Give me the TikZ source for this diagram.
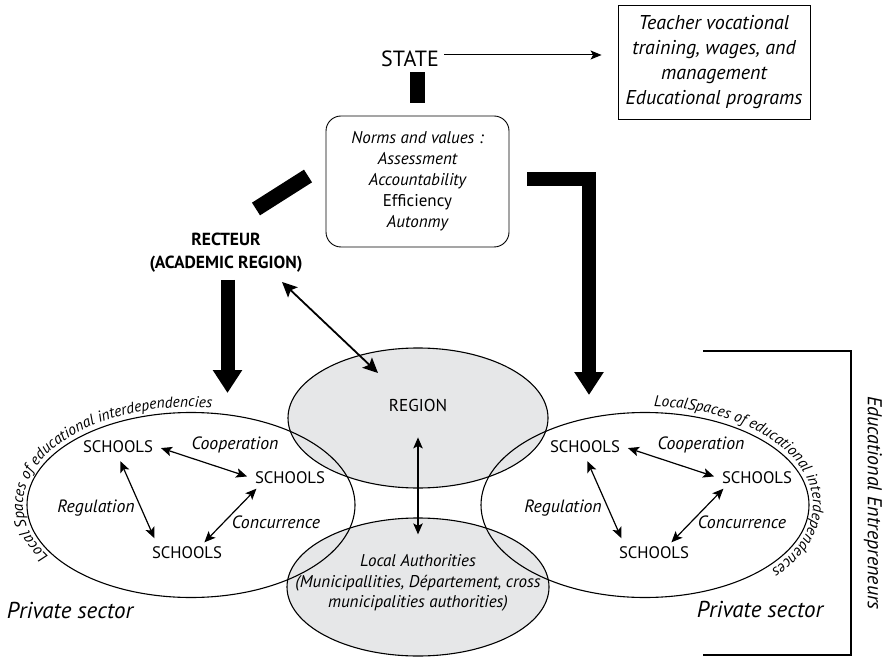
\documentclass[tikz,border=0pt]{standalone}
\usepackage{fontspec}
\setmainfont{PT Sans}
\usetikzlibrary{arrows.meta,decorations.text,calc}
\definecolor{lgray}{RGB}{230,231,232}
\begin{document}
\begin{tikzpicture}[x=1pt,y=1pt,
  every node/.style={inner sep=3pt},
  outl/.style={line width=1.1pt},
  stub/.style={line width=15pt},
  bigarr/.style={line width=14pt,line join=miter,-{Triangle[length=23pt,width=28pt]}},
  smallarr/.style={line width=1.2pt,{Stealth[length=11pt,width=9.5pt,inset=2.5pt]}-{Stealth[length=11pt,width=9.5pt,inset=2.5pt]}},
  midarr/.style={line width=1.8pt,{Stealth[length=15pt,width=14pt,inset=3pt]}-{Stealth[length=15pt,width=14pt,inset=3pt]}},
  thinarr/.style={line width=1pt,-{Stealth[length=11pt,width=9pt,inset=2.5pt]}},
  schl/.style={font=\fontsize{16.7}{18}\selectfont},
  itl/.style={font=\itshape\fontsize{17.8}{19}\selectfont},
  bigtxt/.style={font=\fontsize{22}{24}\selectfont},
  bigit/.style={font=\itshape\fontsize{23}{25}\selectfont},
]
\useasboundingbox (0,0) rectangle (882,659);

% shaded ellipses
\fill[lgray] (418,241) ellipse [x radius=130, y radius=70];
\fill[lgray] (418,72) ellipse [x radius=131, y radius=69];
\draw[outl] (418,241) ellipse [x radius=130, y radius=70];
\draw[outl] (418,72) ellipse [x radius=131, y radius=69];
\draw[outl] (191,154) ellipse [x radius=164, y radius=92.5];
\draw[outl] (645,154) ellipse [x radius=164, y radius=92.5];

% top
\node[bigtxt] (state) at (410,600) {STATE};
\node[draw,line width=0.9pt,minimum width=192pt,minimum height=114pt,align=center,
      font=\itshape\fontsize{20}{25}\selectfont] (teacher) at (714,597)
  {Teacher vocational\\training, wages, and\\management\\Educational programs};
\draw[thinarr,shorten <=2pt,shorten >=16pt] ([yshift=4]state.east) -- ([yshift=4]state.east -| teacher.west);

\node[draw,line width=0.9pt,rounded corners=15pt,minimum width=183pt,minimum height=131pt,align=center,
      font=\fontsize{17}{21}\selectfont] (norms) at (417.5,477.5)
  {\itshape Norms and values :\\\itshape Assessment\\\itshape Accountability\\Efficiency\\\itshape Autonmy};
\draw[stub,shorten <=2pt,shorten >=13pt] (state.south -| norms.north) -- (norms.north);

\node[align=center,font=\bfseries\fontsize{17.5}{23}\selectfont] (recteur) at (226,406) {RECTEUR\\(ACADEMIC REGION)};
\coordinate (d1) at (256,450);
\coordinate (d2) at (308,483);
\draw[stub] (d1) -- (d2);

\coordinate (r2) at (227.5,266);
\draw[bigarr,shorten <=4pt] (recteur.south -| r2) -- (r2);

\coordinate (l1) at (589,480);
\coordinate (l2) at (589,264);
\draw[bigarr,shorten <=18pt] (norms.east |- l1) -- (l1) -- (l2);

\coordinate (a1) at (282,377);
\coordinate (a2) at (378,286);
\draw[midarr] (a1) -- (a2);

% centre
\node[font=\fontsize{17.2}{19}\selectfont] (regionlbl) at (418,254) {REGION};
\node[align=center,font=\itshape\fontsize{17}{20.5}\selectfont] (locallbl) at (418,76)
  {Local Authorities\\(Municipallities, Département, cross\\municipalities authorities)};
\draw[smallarr] ([yshift=-23]regionlbl.south) -- ([yshift=17]locallbl.north);

% left local space
\node[schl] (s1) at (118,212.5) {SCHOOLS};
\node[schl] (s2) at (290,181) {SCHOOLS};
\node[schl] (s3) at (187,106) {SCHOOLS};
\node[itl] (c1) at (235,214.5) {Cooperation};
\node[itl] (g1) at (96,151) {Regulation};
\node[itl] (k1) at (276,136.5) {Concurrence};
\draw[smallarr,shorten <=5pt,shorten >=5pt] (s1.east) -- (s2.west);
\draw[smallarr,shorten <=6pt,shorten >=6pt] (s1.south) -- ([xshift=8]s3.north west);
\draw[smallarr,shorten <=2pt,shorten >=2pt] ([xshift=6]s2.south west) -- ([xshift=16]s3.north);

% right local space
\node[schl] (s4) at (585,212.5) {SCHOOLS};
\node[schl] (s5) at (757,181) {SCHOOLS};
\node[schl] (s6) at (654,106) {SCHOOLS};
\node[itl] (c2) at (701,214.5) {Cooperation};
\node[itl] (g2) at (563,151) {Regulation};
\node[itl] (k2) at (742,136.5) {Concurrence};
\draw[smallarr,shorten <=5pt,shorten >=5pt] (s4.east) -- (s5.west);
\draw[smallarr,shorten <=6pt,shorten >=6pt] (s4.south) -- ([xshift=8]s6.north west);
\draw[smallarr,shorten <=2pt,shorten >=2pt] ([xshift=6]s5.south west) -- ([xshift=16]s6.north);

% curved texts
\path[decorate,decoration={text along path,text align=left,
   text={|\itshape\fontsize{15.5}{15.5}\selectfont|Local Spaces of educational interdependencies}}]
   ($(191,154)+(212:168 and 98)$) arc[start angle=212,end angle=30,x radius=168,y radius=98];
\path[decorate,decoration={text along path,text align=left,
   text={|\itshape\fontsize{15.5}{15.5}\selectfont|LocalSpaces of educational interdependences}}]
   ($(645,154)+(87:168 and 99)$) arc[start angle=87,end angle=-100,x radius=168,y radius=99];

\node[bigit] (priv1) at (70,49) {Private sector};
\node[bigit] (priv2) at (760,50) {Private sector};

% bracket
\coordinate (b1) at (703,308);
\coordinate (b2) at (851,308);
\coordinate (b3) at (851,4);
\coordinate (b4) at (703,4);
\draw[line width=1.4pt] (b1) -- (b2) -- (b3) -- (b4);
\node[font=\itshape\fontsize{20}{22}\selectfont,rotate=-90] (entre) at (873,156) {Educational Entrepreneurs};
\end{tikzpicture}
\end{document}
